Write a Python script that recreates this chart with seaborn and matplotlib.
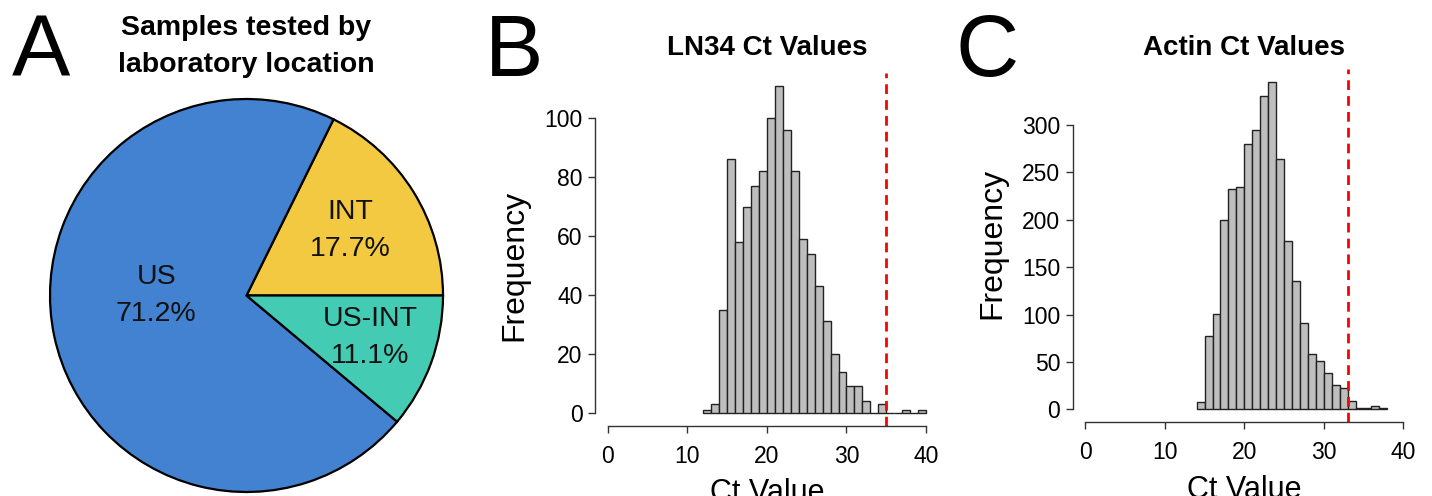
import numpy as np
import pandas as pd
import seaborn as sns
import matplotlib.pyplot as plt

# pie: samples tested by laboratory location
loc_labels = ['US', 'INT', 'US-INT']
loc_pct = [71.2, 17.7, 11.1]
loc_colors = ['#4381D1', '#F2C940', '#43CBB3']

# histogram counts per 1-Ct bin (left edge)
ln34_bins = list(range(12, 40))
ln34_counts = [1, 3, 35, 86, 58, 70, 77, 82, 100, 111, 96, 82, 59, 54,
               43, 31, 20, 14, 9, 9, 4, 0, 3, 0, 0, 1, 0, 1]
ln34_cutoff = 35

actin_bins = list(range(14, 38))
actin_counts = [8, 77, 101, 200, 232, 235, 280, 295, 331, 345, 264, 178,
                135, 91, 58, 51, 38, 26, 22, 9, 1, 1, 3, 1]
actin_cutoff = 33

sns.set_style('ticks')
plt.rcParams['font.family'] = ['Liberation Sans', 'DejaVu Sans']
plt.rcParams['text.color'] = 'black'
plt.rcParams['axes.labelcolor'] = 'black'

W, H = 1432, 496
fig = plt.figure(figsize=(W / 100, H / 100), dpi=100)

def px_axes(left, top, width, height):
    return fig.add_axes([left / W, (H - top - height) / H, width / W, height / H])

# ---- A: pie (INT starts at 0 deg, then US, then US-INT, counter-clockwise)
side = 432.3
ax_pie = px_axes(246.5 - side / 2, 295.5 - side / 2, side, side)
order = [1, 0, 2]
ax_pie.pie([loc_pct[i] for i in order], colors=[loc_colors[i] for i in order],
           startangle=0, counterclock=True,
           wedgeprops=dict(edgecolor='black', linewidth=1.6))
ax_pie.set_xlim(-1.1, 1.1)
ax_pie.set_ylim(-1.1, 1.1)
ax_pie.set_aspect('equal')
ax_pie.axis('off')
label_pos = [(-0.46, 0.0), (0.53, 0.33), (0.63, -0.215)]
for lab, pct, (x, y) in zip(loc_labels, loc_pct, label_pos):
    ax_pie.text(x, y, f'{lab}\n{pct:.1f}%', ha='center', va='center', fontsize=20.5,
                color='#111111', linespacing=1.55)

fig.text(246.5 / W, 1 - 15 / H, 'Samples tested by\nlaboratory location', ha='center', va='top',
         fontsize=20.5, fontweight='bold', linespacing=1.55)

# ---- B, C: histograms
def hist_panel(ax, bins, counts, cutoff, ymax, ystep, title, pad, ylab_y):
    df = pd.DataFrame({'ct': np.array(bins) + 0.5, 'n': counts})
    sns.histplot(data=df, x='ct', weights='n', binwidth=1, binrange=(bins[0], bins[-1] + 1),
                 color='#BEBEBE', alpha=1, edgecolor='#222222', linewidth=1.0, ax=ax)
    ax.axvline(cutoff, color='red', lw=2.0, ls=(0, (3.5, 2.2)))
    ax.set_xlim(-1.6, 41.6)
    ax.set_ylim(-0.04 * ymax, 1.04 * ymax)
    ax.set_xticks(range(0, 41, 10))
    ax.set_yticks(range(0, ymax + 1, ystep))
    ax.spines[['top', 'right']].set_visible(False)
    ax.spines['left'].set_bounds(0, (ymax // ystep) * ystep)
    ax.spines['bottom'].set_bounds(0, 40)
    for s in ['left', 'bottom']:
        ax.spines[s].set_color('#333333')
        ax.spines[s].set_linewidth(1.0)
    ax.tick_params(axis='both', length=5, width=1.0, color='#333333', labelsize=16.5,
                   labelcolor='black')
    ax.tick_params(axis='y', pad=4)
    ax.tick_params(axis='x', pad=8.5)
    ax.set_title(title, fontsize=20, fontweight='bold', pad=pad)
    ax.set_xlabel('Ct Value', fontsize=22, labelpad=7.5)
    ax.set_ylabel('Frequency', fontsize=23)
    ax.yaxis.set_label_coords(-0.19, ylab_y)

ax_b = px_axes(595, 72.8, 343.8, 353)
hist_panel(ax_b, ln34_bins, ln34_counts, ln34_cutoff, 111, 20, 'LN34 Ct Values', 12.8, 0.454)

ax_c = px_axes(1072.6, 69.2, 343.4, 353.2)
hist_panel(ax_c, actin_bins, actin_counts, actin_cutoff, 345, 50, 'Actin Ct Values', 10.2, 0.508)

# panel letters
for letter, x in [('A', 12), ('B', 485), ('C', 955)]:
    fig.text(x / W, 1 - 76 / H, letter, ha='left', va='baseline', fontsize=63)

fig.savefig('out.png', dpi=100)
